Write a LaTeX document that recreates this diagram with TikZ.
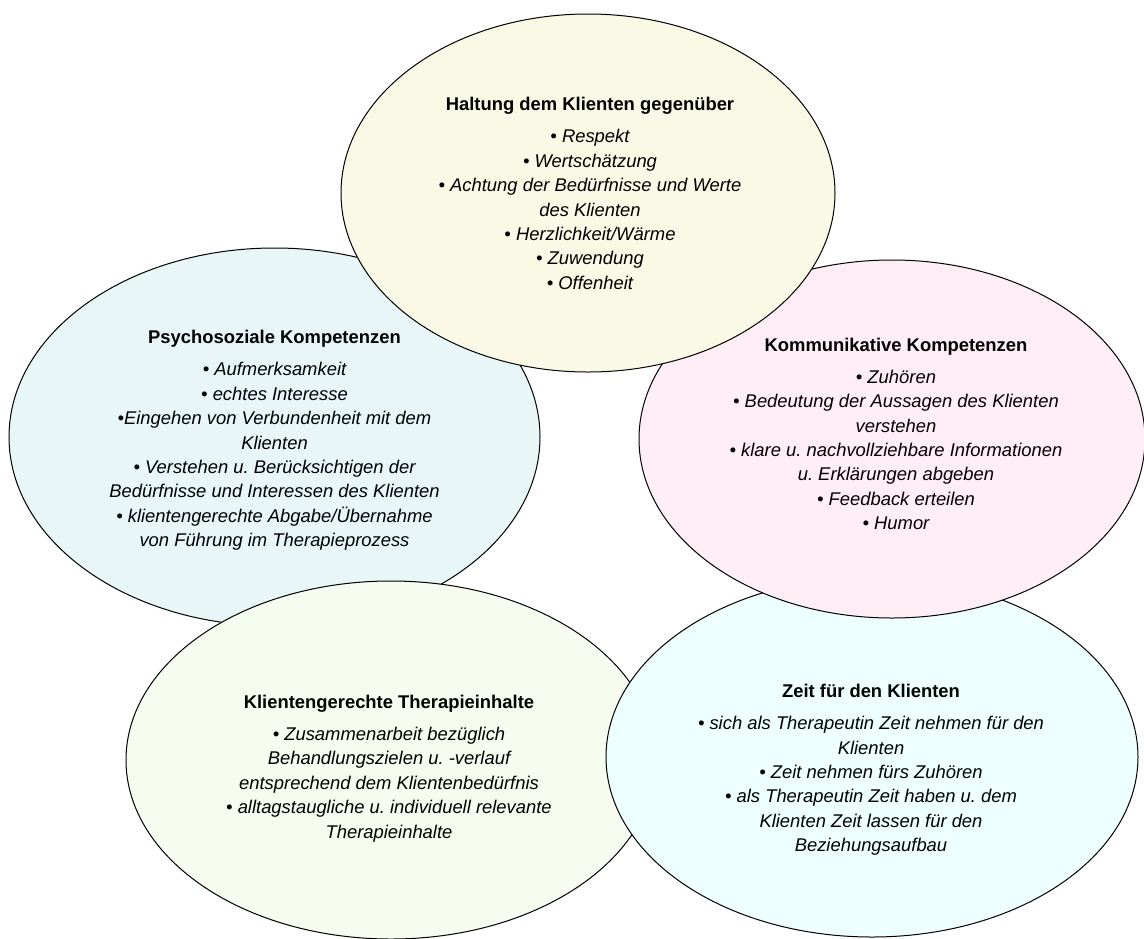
\documentclass[tikz,border=0pt]{standalone}
\usepackage{fontspec}
\setmainfont{Liberation Sans}
\usetikzlibrary{shapes.geometric}
\frenchspacing
\definecolor{haltungfill}{HTML}{FAF9E6}
\definecolor{psychofill}{HTML}{E8F6F8}
\definecolor{kommfill}{HTML}{FFEEF5}
\definecolor{inhaltfill}{HTML}{F6FCF0}
\definecolor{zeitfill}{HTML}{EEFFFF}
\tikzset{
  bubble/.style={ellipse, draw=black, line width=1pt, inner sep=0pt},
  bubbletext/.style={align=center, inner sep=0pt, font=\fontsize{18.4}{24.4}\selectfont\itshape\frenchspacing}
}
\newcommand{\bubbletitle}[1]{\textup{\textbf{#1}}}

\begin{document}
\begin{tikzpicture}[x=1pt, y=-1pt]
\useasboundingbox (0, 0) rectangle (1144, 938);
\clip (0, 0) rectangle (1144, 938);
\node [bubble, fill=psychofill, minimum width=531pt, minimum height=378pt] (psycho) at (274.5, 437) {};
\node [bubble, fill=inhaltfill, minimum width=530pt, minimum height=358pt] (inhalt) at (391, 760) {};
\node [bubble, fill=zeitfill, minimum width=532pt, minimum height=360pt] (zeit) at (872, 757) {};
\node [bubble, fill=kommfill, minimum width=506pt, minimum height=358pt] (komm) at (892, 439) {};
\node [bubble, fill=haltungfill, minimum width=494pt, minimum height=358pt] (haltung) at (588, 193) {};

\node [bubbletext] (haltungtext) at (590, 193.5) {\bubbletitle{Haltung dem Klienten gegenüber}\\[7.6pt]
  • Respekt\\ • Wertschätzung\\ • Achtung der Bedürfnisse und Werte\\ des Klienten\\
  • Herzlichkeit/Wärme\\ • Zuwendung\\ • Offenheit};
\node [bubbletext] (psychotext) at (274.5, 440.5) {\bubbletitle{Psychosoziale Kompetenzen}\\[7.6pt]
  • Aufmerksamkeit\\ • echtes Interesse\\ •Eingehen von Verbundenheit mit dem\\ Klienten\\
  • Verstehen u. Berücksichtigen der\\ Bedürfnisse und Interessen des Klienten\\
  • klientengerechte Abgabe/Übernahme\\ von Führung im Therapieprozess};
\node [bubbletext] (kommtext) at (896, 434) {\bubbletitle{Kommunikative Kompetenzen}\\[7.6pt]
  • Zuhören\\ • Bedeutung der Aussagen des Klienten\\ verstehen\\
  • klare u. nachvollziehbare Informationen\\ u. Erklärungen abgeben\\
  • Feedback erteilen\\ • Humor};
\node [bubbletext] (inhalttext) at (389, 768.5) {\bubbletitle{Klientengerechte Therapieinhalte}\\[7.6pt]
  • Zusammenarbeit bezüglich\\ Behandlungszielen u. -verlauf\\ entsprechend dem Klientenbedürfnis\\
  • alltagstaugliche u. individuell relevante\\ Therapieinhalte};
\node [bubbletext] (zeittext) at (871, 770) {\bubbletitle{Zeit für den Klienten}\\[7.6pt]
  • sich als Therapeutin Zeit nehmen für den\\ Klienten\\ • Zeit nehmen fürs Zuhören\\
  • als Therapeutin Zeit haben u. dem\\ Klienten Zeit lassen für den\\ Beziehungsaufbau};
\end{tikzpicture}
\end{document}
